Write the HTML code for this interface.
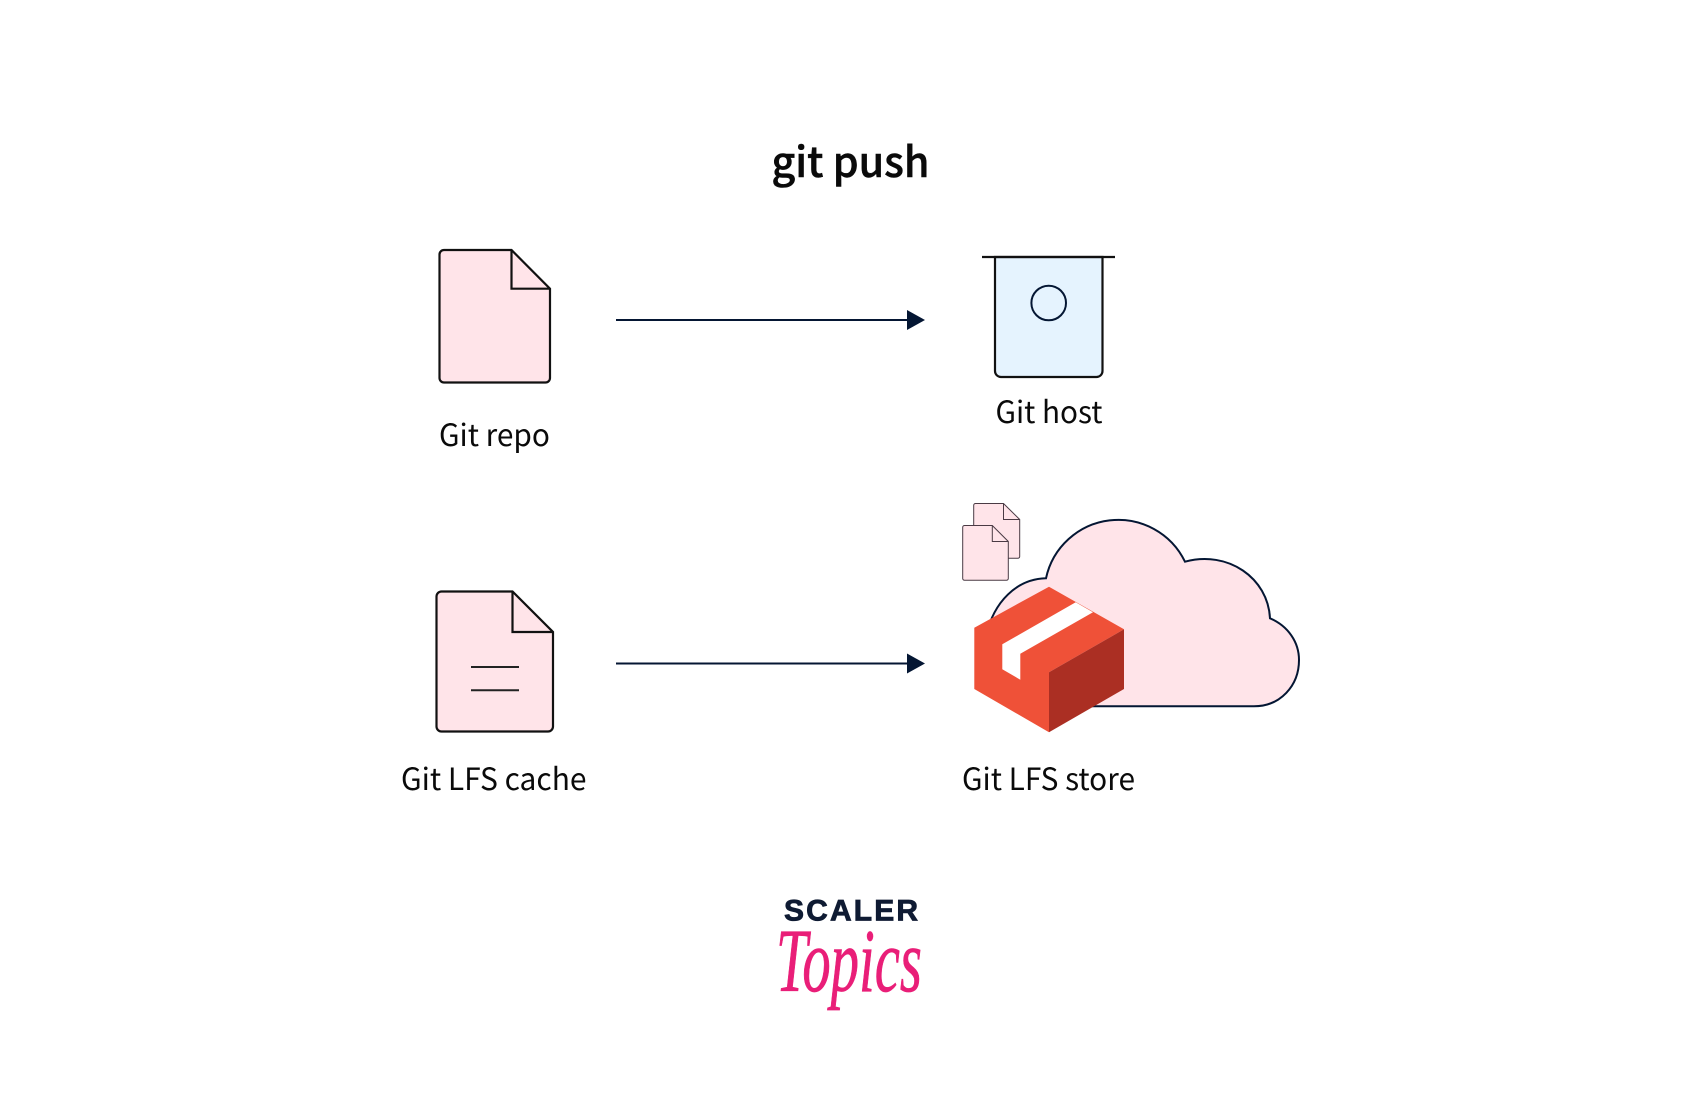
<!DOCTYPE html>
<html><head><meta charset="utf-8"><style>
html,body{margin:0;padding:0;background:#fff}
svg{display:block}
text{font-family:"Noto Sans CJK SC","Noto Sans CJK JP","Liberation Sans",sans-serif;fill:#0a0a0a}
</style></head><body>
<svg width="1700" height="1110" viewBox="0 0 1700 1110" xmlns="http://www.w3.org/2000/svg">
<rect width="1700" height="1110" fill="#fff"/>
<text x="771.5" y="177" font-size="42" font-weight="500" stroke="#0a0a0a" stroke-width="0.5" textLength="158" lengthAdjust="spacingAndGlyphs">git push</text>

<!-- Git repo -->
<path d="M444 250H511.5L550 288.7V378a4.5 4.5 0 0 1-4.5 4.5H444a4.5 4.5 0 0 1-4.5-4.5V254.5a4.5 4.5 0 0 1 4.5-4.5Z" fill="#ffe4e9" stroke="#111" stroke-width="2.2"/>
<path d="M511.5 250V288.7H550" fill="none" stroke="#111" stroke-width="2.2"/>
<text x="439" y="446" font-size="30.5" textLength="111" lengthAdjust="spacingAndGlyphs">Git repo</text>

<!-- Arrow 1 -->
<line x1="616" y1="320" x2="910" y2="320" stroke="#041633" stroke-width="2"/>
<path d="M907 310L925 320L907 330Z" fill="#041633"/>

<!-- Git host -->
<path d="M995 257V371a6 6 0 0 0 6 6H1096.5a6 6 0 0 0 6-6V257Z" fill="#e5f3fe" stroke="#111" stroke-width="2.2"/>
<line x1="982" y1="257" x2="1115" y2="257" stroke="#111" stroke-width="2.2"/>
<circle cx="1048.7" cy="303" r="17.3" fill="none" stroke="#041633" stroke-width="2"/>
<text x="995.5" y="423" font-size="30.5" textLength="107" lengthAdjust="spacingAndGlyphs">Git host</text>

<!-- Git LFS cache -->
<path d="M441.5 591.5H512.5L553 632V726.5a5 5 0 0 1-5 5H441.5a5 5 0 0 1-5-5V596.5a5 5 0 0 1 5-5Z" fill="#ffe4e9" stroke="#111" stroke-width="2.2"/>
<path d="M512.5 591.5V632H553" fill="none" stroke="#111" stroke-width="2.2"/>
<line x1="471" y1="667" x2="519" y2="667" stroke="#222" stroke-width="2"/>
<line x1="471" y1="690.3" x2="519" y2="690.3" stroke="#222" stroke-width="2"/>
<text x="401" y="790" font-size="30.5" textLength="185.5" lengthAdjust="spacingAndGlyphs">Git LFS cache</text>

<!-- Arrow 2 -->
<line x1="616" y1="663.5" x2="910" y2="663.5" stroke="#041633" stroke-width="2"/>
<path d="M907 653.5L925 663.5L907 673.5Z" fill="#041633"/>

<!-- Cloud -->
<path d="M985 640C993 600 1018 579 1046 578.3A74 74 0 0 1 1185 561.7C1228 550 1268 578 1270 618.3C1288 626 1299 642 1299 660C1299 686 1280 706.3 1254 706.3H1040Z" fill="#ffe4e9" stroke="#041633" stroke-width="2" stroke-linejoin="miter"/>

<!-- Small documents -->
<path d="M975.5 503.5H1003.5L1019.7 519.5V556.5a1.8 1.8 0 0 1-1.8 1.8H975.5a1.8 1.8 0 0 1-1.8-1.8V505.3a1.8 1.8 0 0 1 1.8-1.8Z" fill="#ffe4e9" stroke="#4a3a44" stroke-width="1"/>
<path d="M1003.5 503.5V519.5H1019.7" fill="none" stroke="#4a3a44" stroke-width="1"/>
<path d="M964.5 525.5H992.3L1008.3 541.5V578.5a1.8 1.8 0 0 1-1.8 1.8H964.5a1.8 1.8 0 0 1-1.8-1.8V527.3a1.8 1.8 0 0 1 1.8-1.8Z" fill="#ffe4e9" stroke="#4a3a44" stroke-width="1"/>
<path d="M992.3 525.5V541.5H1008.3" fill="none" stroke="#4a3a44" stroke-width="1"/>

<!-- Package -->
<path d="M1049 586.7L974.3 627.7V689L1049 732.3V672.3L1124 629.3Z" fill="#ef5138"/>
<path d="M1049 672.3L1124 629.3V689L1049 732.3Z" fill="#ab2f23"/>
<path d="M1075.7 602.3L1093 612.3L1020.3 653.7V679.7L1002.3 669.3V644.3Z" fill="#fff"/>
<text x="962" y="790" font-size="30.5" textLength="173" lengthAdjust="spacingAndGlyphs">Git LFS store</text>

<!-- Logo -->
<text x="784" y="920.5" font-size="30" font-weight="700" stroke="#0f1b33" stroke-width="0.8" textLength="134" lengthAdjust="spacing" style="fill:#0f1b33;font-family:'Liberation Sans',sans-serif">SCALER</text>
<text x="776" y="991" font-size="90" font-style="italic" stroke="#e91e78" stroke-width="0.7" textLength="146" lengthAdjust="spacingAndGlyphs" style="fill:#e91e78;font-family:'Liberation Serif',serif">Topics</text>
</svg>
</body></html>
